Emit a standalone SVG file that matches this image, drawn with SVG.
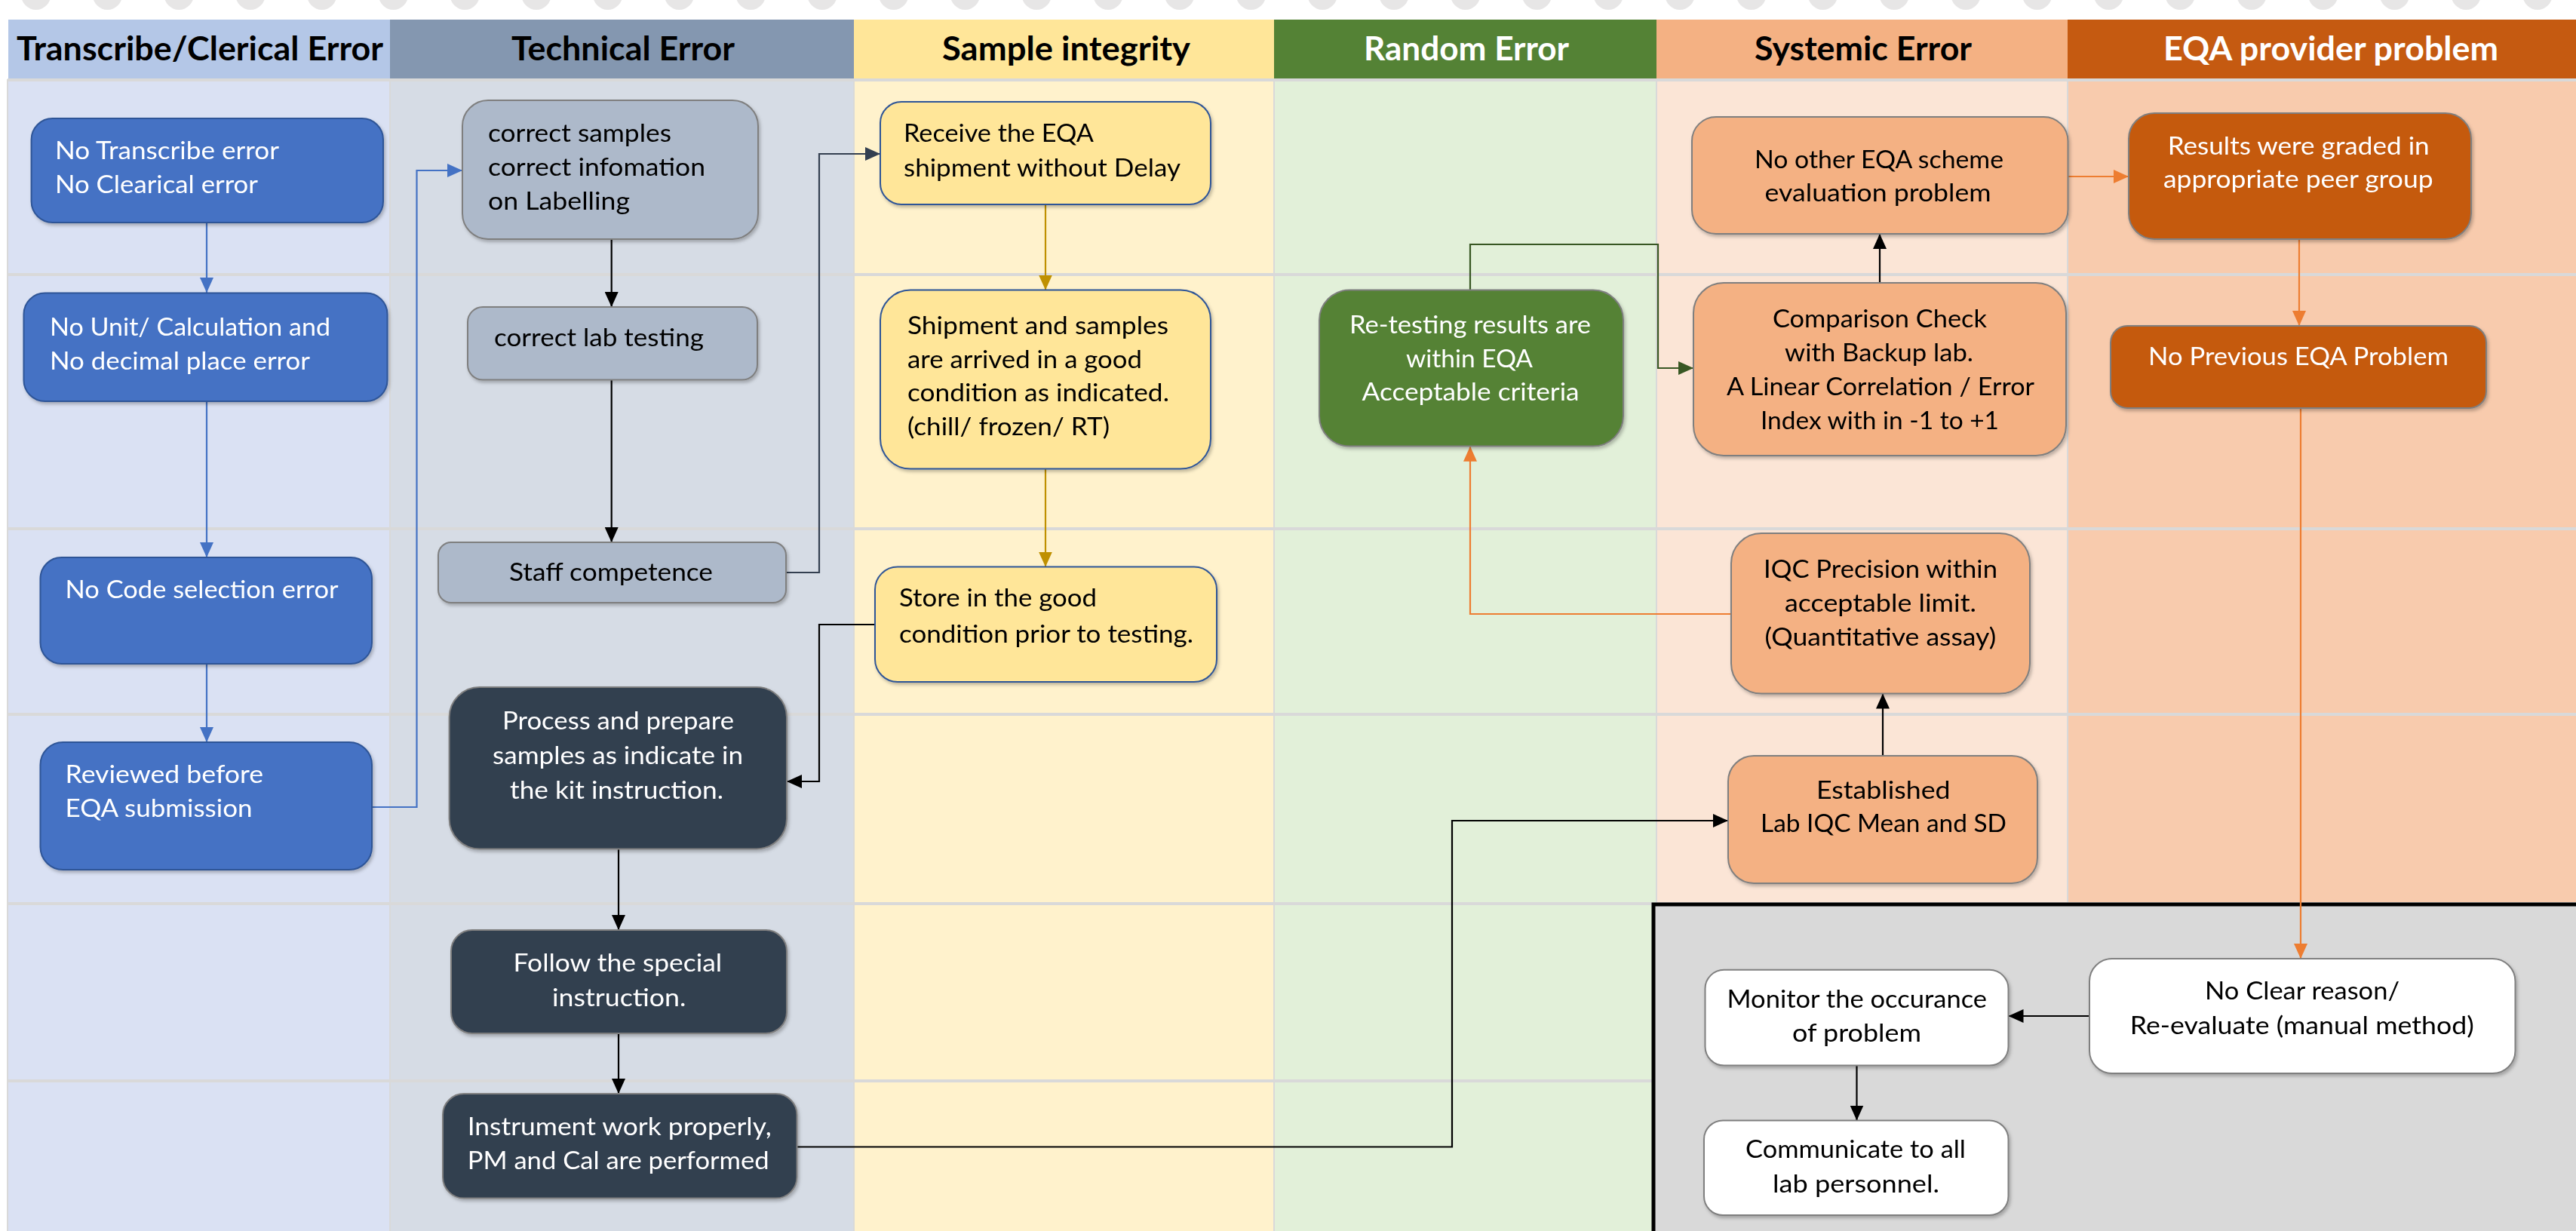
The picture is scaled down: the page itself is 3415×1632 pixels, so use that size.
<svg xmlns="http://www.w3.org/2000/svg" width="3415" height="1632" viewBox="0 0 3415 1632">
<style>
text{font-family:Lato,"Open Sans","Liberation Sans",sans-serif;font-size:33px}
.h{font-weight:bold;font-size:44px}
.w{fill:#ffffff}
.k{fill:#000000}
.nb{fill:#4472C4;stroke:#2F5597;stroke-width:2}
.ng{fill:#ADB9CA;stroke:#7F7F7F;stroke-width:2}
.nd{fill:#333F50;stroke:#7F7F7F;stroke-width:2}
.ny{fill:#FFE699;stroke:#2F5597;stroke-width:2}
.nr{fill:#548235;stroke:#7F7F7F;stroke-width:2}
.no{fill:#F4B183;stroke:#7F7F7F;stroke-width:2}
.nt{fill:#C55A11;stroke:#7F7F7F;stroke-width:2}
.nw{fill:#FFFFFF;stroke:#7F7F7F;stroke-width:2}
.c{fill:none;stroke-width:2.2}
.dot{fill:#E7E6E6}
.sep{stroke:#D9D9D9;stroke-width:4}
.vsep{stroke:#D9D9D9;stroke-width:2}
</style>
<defs>
<filter id="sh" x="-5%" y="-5%" width="112%" height="115%"><feDropShadow dx="2" dy="3" stdDeviation="2" flood-color="#000" flood-opacity="0.25"/></filter>
<marker id="aBlue" markerUnits="userSpaceOnUse" markerWidth="20" markerHeight="18" refX="20" refY="9" orient="auto"><path d="M0,0 L20,9 L0,18 z" fill="#4472C4"/></marker>
<marker id="aBlack" markerUnits="userSpaceOnUse" markerWidth="20" markerHeight="18" refX="20" refY="9" orient="auto"><path d="M0,0 L20,9 L0,18 z" fill="#000"/></marker>
<marker id="aSlate" markerUnits="userSpaceOnUse" markerWidth="20" markerHeight="18" refX="20" refY="9" orient="auto"><path d="M0,0 L20,9 L0,18 z" fill="#333F50"/></marker>
<marker id="aGold" markerUnits="userSpaceOnUse" markerWidth="20" markerHeight="18" refX="20" refY="9" orient="auto"><path d="M0,0 L20,9 L0,18 z" fill="#BF9000"/></marker>
<marker id="aGreen" markerUnits="userSpaceOnUse" markerWidth="20" markerHeight="18" refX="20" refY="9" orient="auto"><path d="M0,0 L20,9 L0,18 z" fill="#385723"/></marker>
<marker id="aOrange" markerUnits="userSpaceOnUse" markerWidth="20" markerHeight="18" refX="20" refY="9" orient="auto"><path d="M0,0 L20,9 L0,18 z" fill="#ED7D31"/></marker>
</defs>
<rect x="0" y="0" width="3415" height="1632" fill="#ffffff"/>
<g id="dots">
<ellipse class="dot" cx="47.7" cy="-8" rx="20" ry="21"/><ellipse class="dot" cx="142.5" cy="-8" rx="20" ry="21"/><ellipse class="dot" cx="237.2" cy="-8" rx="20" ry="21"/><ellipse class="dot" cx="332" cy="-8" rx="20" ry="21"/><ellipse class="dot" cx="426.7" cy="-8" rx="20" ry="21"/><ellipse class="dot" cx="521.5" cy="-8" rx="20" ry="21"/><ellipse class="dot" cx="616.2" cy="-8" rx="20" ry="21"/><ellipse class="dot" cx="711" cy="-8" rx="20" ry="21"/><ellipse class="dot" cx="805.7" cy="-8" rx="20" ry="21"/><ellipse class="dot" cx="900.5" cy="-8" rx="20" ry="21"/><ellipse class="dot" cx="995.2" cy="-8" rx="20" ry="21"/><ellipse class="dot" cx="1090" cy="-8" rx="20" ry="21"/><ellipse class="dot" cx="1184.7" cy="-8" rx="20" ry="21"/><ellipse class="dot" cx="1279.5" cy="-8" rx="20" ry="21"/><ellipse class="dot" cx="1374.2" cy="-8" rx="20" ry="21"/><ellipse class="dot" cx="1469" cy="-8" rx="20" ry="21"/><ellipse class="dot" cx="1563.7" cy="-8" rx="20" ry="21"/><ellipse class="dot" cx="1658.5" cy="-8" rx="20" ry="21"/><ellipse class="dot" cx="1753.2" cy="-8" rx="20" ry="21"/><ellipse class="dot" cx="1848" cy="-8" rx="20" ry="21"/><ellipse class="dot" cx="1942.7" cy="-8" rx="20" ry="21"/><ellipse class="dot" cx="2037.5" cy="-8" rx="20" ry="21"/><ellipse class="dot" cx="2132.2" cy="-8" rx="20" ry="21"/><ellipse class="dot" cx="2227" cy="-8" rx="20" ry="21"/><ellipse class="dot" cx="2321.7" cy="-8" rx="20" ry="21"/><ellipse class="dot" cx="2416.5" cy="-8" rx="20" ry="21"/><ellipse class="dot" cx="2511.2" cy="-8" rx="20" ry="21"/><ellipse class="dot" cx="2606" cy="-8" rx="20" ry="21"/><ellipse class="dot" cx="2700.7" cy="-8" rx="20" ry="21"/><ellipse class="dot" cx="2795.5" cy="-8" rx="20" ry="21"/><ellipse class="dot" cx="2890.2" cy="-8" rx="20" ry="21"/><ellipse class="dot" cx="2985" cy="-8" rx="20" ry="21"/><ellipse class="dot" cx="3079.7" cy="-8" rx="20" ry="21"/><ellipse class="dot" cx="3174.5" cy="-8" rx="20" ry="21"/><ellipse class="dot" cx="3269.2" cy="-8" rx="20" ry="21"/><ellipse class="dot" cx="3364" cy="-8" rx="20" ry="21"/>
</g>
<g id="lanes">
<rect x="10" y="105" width="507" height="1527" fill="#DAE1F3"/>
<rect x="517" y="105" width="615" height="1527" fill="#D6DCE5"/>
<rect x="1132" y="105" width="557" height="1527" fill="#FFF2CC"/>
<rect x="1689" y="105" width="507" height="1527" fill="#E2F0D9"/>
<rect x="2196" y="105" width="545" height="1527" fill="#FBE5D6"/>
<rect x="2741" y="105" width="674" height="1527" fill="#F8CBAD"/>
<line class="vsep" x1="10" y1="105" x2="10" y2="1632"/>
<line class="vsep" x1="517" y1="105" x2="517" y2="1632"/>
<line class="vsep" x1="1132" y1="105" x2="1132" y2="1632"/>
<line class="vsep" x1="1689" y1="105" x2="1689" y2="1632"/>
<line class="vsep" x1="2196" y1="105" x2="2196" y2="1632"/>
<line class="vsep" x1="2741" y1="105" x2="2741" y2="1632"/>
<line class="sep" x1="10" y1="364" x2="3415" y2="364"/>
<line class="sep" x1="10" y1="701" x2="3415" y2="701"/>
<line class="sep" x1="10" y1="947" x2="3415" y2="947"/>
<line class="sep" x1="10" y1="1198" x2="3415" y2="1198"/>
<line class="sep" x1="10" y1="1433" x2="2192" y2="1433"/>
<rect x="11" y="26" width="506" height="79" fill="#B4C7E7"/>
<rect x="517" y="26" width="615" height="79" fill="#8497B0"/>
<rect x="1132" y="26" width="557" height="79" fill="#FFE699"/>
<rect x="1689" y="26" width="507" height="79" fill="#548235"/>
<rect x="2196" y="26" width="545" height="79" fill="#F4B183"/>
<rect x="2741" y="26" width="674" height="79" fill="#C55A11"/>
<line class="sep" x1="10" y1="106" x2="3415" y2="106"/>
<text class="h k" x="22" y="80" textLength="486" lengthAdjust="spacingAndGlyphs">Transcribe/Clerical Error</text>
<text class="h k" x="678" y="80" textLength="296" lengthAdjust="spacingAndGlyphs">Technical Error</text>
<text class="h k" x="1249" y="80" textLength="329" lengthAdjust="spacingAndGlyphs">Sample integrity</text>
<text class="h w" x="1808" y="80" textLength="272" lengthAdjust="spacingAndGlyphs">Random Error</text>
<text class="h k" x="2326" y="80" textLength="288" lengthAdjust="spacingAndGlyphs">Systemic Error</text>
<text class="h w" x="2868" y="80" textLength="444" lengthAdjust="spacingAndGlyphs">EQA provider problem</text>
<rect x="2192" y="1199" width="1240" height="450" fill="#D9D9D9" stroke="#000" stroke-width="5"/>
</g>
<g id="connectors">
<path class="c" stroke="#4472C4" d="M274,295 V388" marker-end="url(#aBlue)"/>
<path class="c" stroke="#4472C4" d="M274,532 V739" marker-end="url(#aBlue)"/>
<path class="c" stroke="#4472C4" d="M274,880 V984" marker-end="url(#aBlue)"/>
<path class="c" stroke="#4472C4" d="M493,1070 H552.5 V226 H613" marker-end="url(#aBlue)"/>
<path class="c" stroke="#000" d="M810.7,317 V407" marker-end="url(#aBlack)"/>
<path class="c" stroke="#000" d="M810.7,503.6 V719" marker-end="url(#aBlack)"/>
<path class="c" stroke="#333F50" stroke-width="3" d="M1042,759 H1086 V204 H1167" marker-end="url(#aSlate)"/>
<path class="c" stroke="#BF9000" d="M1386,271 V384.6" marker-end="url(#aGold)"/>
<path class="c" stroke="#BF9000" d="M1386,621.5 V751.6" marker-end="url(#aGold)"/>
<path class="c" stroke="#000" stroke-width="3" d="M1160,828 H1086 V1036 H1043" marker-end="url(#aBlack)"/>
<path class="c" stroke="#000" d="M820,1125.4 V1233" marker-end="url(#aBlack)"/>
<path class="c" stroke="#000" d="M820,1370 V1450" marker-end="url(#aBlack)"/>
<path class="c" stroke="#000" stroke-width="3" d="M1056.5,1520.5 H1925 V1088 H2291" marker-end="url(#aBlack)"/>
<path class="c" stroke="#385723" stroke-width="2.5" d="M1949,384.6 V324 H2198 V488 H2245" marker-end="url(#aGreen)"/>
<path class="c" stroke="#ED7D31" stroke-width="2.5" d="M2295,814 H1949 V591.7" marker-end="url(#aOrange)"/>
<path class="c" stroke="#000" d="M2496,1002 V919.6" marker-end="url(#aBlack)"/>
<path class="c" stroke="#000" d="M2492,375 V310" marker-end="url(#aBlack)"/>
<path class="c" stroke="#ED7D31" stroke-width="2.5" d="M2741.5,234 H2822" marker-end="url(#aOrange)"/>
<path class="c" stroke="#ED7D31" stroke-width="2.5" d="M3048,317 V432" marker-end="url(#aOrange)"/>
<path class="c" stroke="#ED7D31" stroke-width="2.5" d="M3050,541 V1271" marker-end="url(#aOrange)"/>
<path class="c" stroke="#000" stroke-width="4" d="M2770,1347 H2662.5" marker-end="url(#aBlack)"/>
<path class="c" stroke="#000" d="M2461.5,1412.6 V1485.5" marker-end="url(#aBlack)"/>
</g>
<g id="n1" filter="url(#sh)"><rect class="nb" x="41.6" y="157" width="466.4" height="138" rx="28"/>
<text class="w" x="73" y="211" textLength="297" lengthAdjust="spacingAndGlyphs">No Transcribe error</text>
<text class="w" x="73" y="256" textLength="269" lengthAdjust="spacingAndGlyphs">No Clearical error</text></g>
<g id="n2" filter="url(#sh)"><rect class="nb" x="31.5" y="388.6" width="482" height="143.4" rx="28"/>
<text class="w" x="66" y="445" textLength="372" lengthAdjust="spacingAndGlyphs">No Unit/ Calculation and</text>
<text class="w" x="66" y="490" textLength="345" lengthAdjust="spacingAndGlyphs">No decimal place error</text></g>
<g id="n3" filter="url(#sh)"><rect class="nb" x="53.5" y="739" width="439.5" height="141" rx="28"/>
<text class="w" x="86.5" y="793" textLength="362" lengthAdjust="spacingAndGlyphs">No Code selection error</text></g>
<g id="n4" filter="url(#sh)"><rect class="nb" x="53.5" y="984" width="439.5" height="169" rx="30"/>
<text class="w" x="86.5" y="1038" textLength="262.6" lengthAdjust="spacingAndGlyphs">Reviewed before</text>
<text class="w" x="86.5" y="1083" textLength="248" lengthAdjust="spacingAndGlyphs">EQA submission</text></g>
<g id="n5" filter="url(#sh)"><rect class="ng" x="613" y="133" width="392" height="184" rx="34"/>
<text class="k" x="647" y="188" textLength="243" lengthAdjust="spacingAndGlyphs">correct samples</text>
<text class="k" x="647" y="233" textLength="288" lengthAdjust="spacingAndGlyphs">correct infomation</text>
<text class="k" x="647" y="278" textLength="188" lengthAdjust="spacingAndGlyphs">on Labelling</text></g>
<g id="n6" filter="url(#sh)"><rect class="ng" x="620" y="407" width="384" height="96.6" rx="20"/>
<text class="k" x="655" y="459" textLength="278" lengthAdjust="spacingAndGlyphs">correct lab testing</text></g>
<g id="n7" filter="url(#sh)"><rect class="ng" x="581" y="719" width="461" height="80" rx="17"/>
<text class="k" x="675" y="770" textLength="270" lengthAdjust="spacingAndGlyphs">Staff competence</text></g>
<g id="n9" filter="url(#sh)"><rect class="nd" x="595.6" y="911" width="447.4" height="214.4" rx="40"/>
<text class="w" x="666" y="967" textLength="307" lengthAdjust="spacingAndGlyphs">Process and prepare</text>
<text class="w" x="653" y="1013" textLength="332" lengthAdjust="spacingAndGlyphs">samples as indicate in</text>
<text class="w" x="676" y="1059" textLength="283" lengthAdjust="spacingAndGlyphs">the kit instruction.</text></g>
<g id="n11" filter="url(#sh)"><rect class="nd" x="598" y="1233" width="445" height="137" rx="28"/>
<text class="w" x="680.6" y="1288" textLength="276.5" lengthAdjust="spacingAndGlyphs">Follow the special</text>
<text class="w" x="732" y="1334" textLength="177.5" lengthAdjust="spacingAndGlyphs">instruction.</text></g>
<g id="n12" filter="url(#sh)"><rect class="nd" x="587" y="1450" width="469.5" height="138.6" rx="28"/>
<text class="w" x="619.7" y="1505" textLength="403" lengthAdjust="spacingAndGlyphs">Instrument work properly,</text>
<text class="w" x="619.7" y="1550" textLength="400" lengthAdjust="spacingAndGlyphs">PM and Cal are performed</text></g>
<g id="n8" filter="url(#sh)"><rect class="ny" x="1167" y="135" width="438" height="136" rx="28"/>
<text class="k" x="1198" y="188" textLength="252" lengthAdjust="spacingAndGlyphs">Receive the EQA</text>
<text class="k" x="1198" y="234" textLength="367" lengthAdjust="spacingAndGlyphs">shipment without Delay</text></g>
<g id="n13" filter="url(#sh)"><rect class="ny" x="1167" y="384.6" width="438" height="237" rx="40"/>
<text class="k" x="1203" y="443" textLength="346" lengthAdjust="spacingAndGlyphs">Shipment and samples</text>
<text class="k" x="1203" y="487.5" textLength="311" lengthAdjust="spacingAndGlyphs">are arrived in a good</text>
<text class="k" x="1203" y="532" textLength="347" lengthAdjust="spacingAndGlyphs">condition as indicated.</text>
<text class="k" x="1203" y="577" textLength="268" lengthAdjust="spacingAndGlyphs">(chill/ frozen/ RT)</text></g>
<g id="n10" filter="url(#sh)"><rect class="ny" x="1160" y="751.6" width="453" height="152.4" rx="30"/>
<text class="k" x="1192" y="804" textLength="262" lengthAdjust="spacingAndGlyphs">Store in the good</text>
<text class="k" x="1192" y="852" textLength="390" lengthAdjust="spacingAndGlyphs">condition prior to testing.</text></g>
<g id="n14" filter="url(#sh)"><rect class="nr" x="1749" y="384.6" width="403" height="207" rx="40"/>
<text class="w" x="1789" y="442" textLength="320" lengthAdjust="spacingAndGlyphs">Re-testing results are</text>
<text class="w" x="1864" y="487" textLength="168" lengthAdjust="spacingAndGlyphs">within EQA</text>
<text class="w" x="1805.6" y="531" textLength="288" lengthAdjust="spacingAndGlyphs">Acceptable criteria</text></g>
<g id="n17" filter="url(#sh)"><rect class="no" x="2243" y="155" width="498.5" height="155" rx="32"/>
<text class="k" x="2326" y="223" textLength="330" lengthAdjust="spacingAndGlyphs">No other EQA scheme</text>
<text class="k" x="2339.6" y="267" textLength="300" lengthAdjust="spacingAndGlyphs">evaluation problem</text></g>
<g id="n15" filter="url(#sh)"><rect class="no" x="2245" y="375" width="494" height="229" rx="40"/>
<text class="k" x="2350" y="434" textLength="284" lengthAdjust="spacingAndGlyphs">Comparison Check</text>
<text class="k" x="2366" y="479" textLength="250" lengthAdjust="spacingAndGlyphs">with Backup lab.</text>
<text class="k" x="2289" y="524" textLength="408" lengthAdjust="spacingAndGlyphs">A Linear Correlation / Error</text>
<text class="k" x="2334" y="569" textLength="316" lengthAdjust="spacingAndGlyphs">Index with in -1 to +1</text></g>
<g id="n18" filter="url(#sh)"><rect class="no" x="2295" y="707" width="396" height="212.6" rx="40"/>
<text class="k" x="2338" y="766" textLength="310" lengthAdjust="spacingAndGlyphs">IQC Precision within</text>
<text class="k" x="2366" y="811" textLength="254" lengthAdjust="spacingAndGlyphs">acceptable limit.</text>
<text class="k" x="2339.6" y="856" textLength="306.6" lengthAdjust="spacingAndGlyphs">(Quantitative assay)</text></g>
<g id="n16" filter="url(#sh)"><rect class="no" x="2291" y="1002" width="410" height="169" rx="34"/>
<text class="k" x="2408" y="1059" textLength="177.5" lengthAdjust="spacingAndGlyphs">Established</text>
<text class="k" x="2334" y="1103" textLength="326" lengthAdjust="spacingAndGlyphs">Lab IQC Mean and SD</text></g>
<g id="n19" filter="url(#sh)"><rect class="nt" x="2822" y="150" width="454" height="167" rx="34"/>
<text class="w" x="2873.7" y="205" textLength="347" lengthAdjust="spacingAndGlyphs">Results were graded in</text>
<text class="w" x="2868" y="249" textLength="357.5" lengthAdjust="spacingAndGlyphs">appropriate peer group</text></g>
<g id="n20" filter="url(#sh)"><rect class="nt" x="2798" y="432" width="498" height="109" rx="22"/>
<text class="w" x="2848" y="484" textLength="398" lengthAdjust="spacingAndGlyphs">No Previous EQA Problem</text></g>
<g id="n21" filter="url(#sh)"><rect class="nw" x="2770" y="1271" width="564.5" height="152" rx="30"/>
<text class="k" x="2923" y="1325" textLength="258" lengthAdjust="spacingAndGlyphs">No Clear reason/</text>
<text class="k" x="2823.7" y="1371" textLength="456" lengthAdjust="spacingAndGlyphs">Re-evaluate (manual method)</text></g>
<g id="n22" filter="url(#sh)"><rect class="nw" x="2260.5" y="1285.8" width="402" height="126.8" rx="25"/>
<text class="k" x="2289.6" y="1336" textLength="344.5" lengthAdjust="spacingAndGlyphs">Monitor the occurance</text>
<text class="k" x="2376" y="1381" textLength="171" lengthAdjust="spacingAndGlyphs">of problem</text></g>
<g id="n23" filter="url(#sh)"><rect class="nw" x="2259" y="1485.5" width="403.5" height="125.5" rx="25"/>
<text class="k" x="2314" y="1535" textLength="292" lengthAdjust="spacingAndGlyphs">Communicate to all</text>
<text class="k" x="2350" y="1581" textLength="221" lengthAdjust="spacingAndGlyphs">lab personnel.</text></g>
</svg>
